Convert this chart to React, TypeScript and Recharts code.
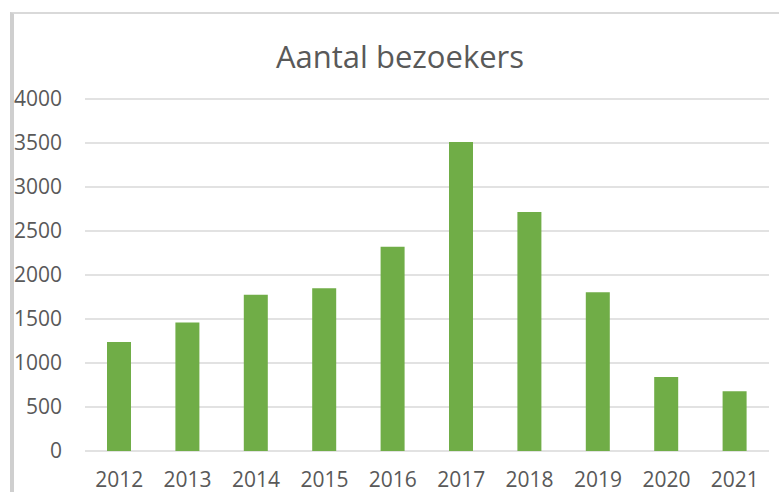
import React from "react";
import { BarChart, Bar, XAxis, YAxis, CartesianGrid } from "recharts";

const years = ["2012", "2013", "2014", "2015", "2016", "2017", "2018", "2019", "2020", "2021"];
const visitors = [1240, 1460, 1775, 1850, 2320, 3510, 2715, 1805, 840, 680];
const yTicks = [0, 500, 1000, 1500, 2000, 2500, 3000, 3500, 4000];

const data = years.map((year, i) => ({ year, visitors: visitors[i] }));

const font = "'Open Sans', sans-serif";
const textColor = "#595959";

export default function App() {
  return (
    <div style={{ position: "absolute", left: 0, top: 0, width: 779, height: 492, background: "#fff", fontFamily: font }}>
      {/* frame */}
      <div
        style={{
          position: "absolute",
          left: 10,
          top: 12,
          width: 767,
          height: 480,
          borderTop: "2px solid #d9d9d9",
          borderLeft: "4px solid #cfcfcf",
          borderRight: "2px solid #ededed",
        }}
      />
      <div
        style={{
          position: "absolute",
          left: 0,
          top: 34,
          width: 800,
          textAlign: "center",
          fontSize: 31,
          color: textColor,
          lineHeight: "44px",
        }}
      >
        Aantal bezoekers
      </div>
      <div style={{ position: "absolute", left: 0, top: 0 }}>
        <BarChart width={779} height={492} data={data} margin={{ top: 99, right: 10, bottom: 0, left: 0 }}>
          <CartesianGrid vertical={false} stroke="#d9d9d9" strokeWidth={1.5} />
          <XAxis
            dataKey="year"
            height={41}
            axisLine={false}
            tickLine={false}
            tickSize={0}
            tickMargin={21}
            tick={{ fill: textColor, fontSize: 21, fontFamily: font }}
          />
          <YAxis
            width={85}
            domain={[0, 4000]}
            ticks={yTicks}
            axisLine={false}
            tickLine={false}
            tickSize={0}
            tickMargin={23}
            tick={{ fill: textColor, fontSize: 21, fontFamily: font }}
          />
          <Bar dataKey="visitors" fill="#70AD47" barSize={24} isAnimationActive={false} />
        </BarChart>
      </div>
    </div>
  );
}
